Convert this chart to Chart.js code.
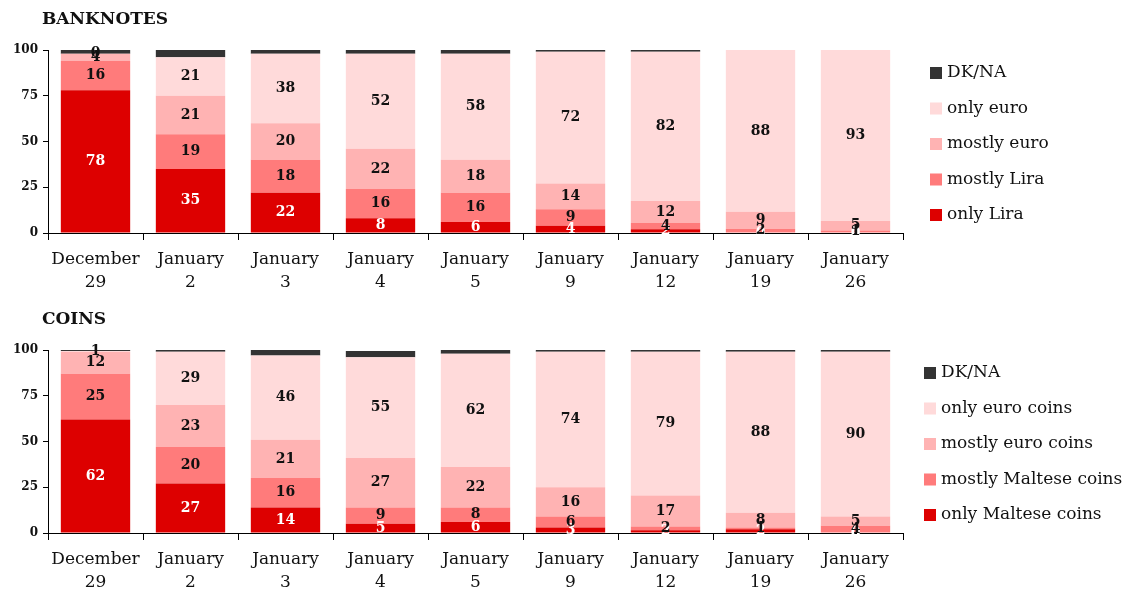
<!DOCTYPE html>
<html>
<head>
<meta charset="utf-8">
<script src="https://cdn.jsdelivr.net/npm/chart.js@4.4.1/dist/chart.umd.min.js"></script>
<style>
    body { margin: 0; background: #fff; }
    canvas { position: absolute; left: 0; }
</style>
</head>
<body>
<canvas id="banknotesChart" width="1127" height="300" style="top:0"></canvas>
<canvas id="coinsChart" width="1127" height="290" style="top:300px"></canvas>

<script>
// categories (survey dates), two lines each
const categories = [
    ["December", "29"], ["January", "2"], ["January", "3"], ["January", "4"], ["January", "5"],
    ["January", "9"], ["January", "12"], ["January", "19"], ["January", "26"]
];
const yTicks = [0, 25, 50, 75, 100];

// BANKNOTES (% of answers)
const bankOnlyLira   = [78, 35, 22, 8, 6, 4, 2, 0, 0];
const bankMostlyLira = [16, 19, 18, 16, 16, 9, 3.5, 2.2, 1.4];
const bankMostlyEuro = [4, 21, 20, 22, 18, 14, 12, 9.4, 5.2];
const bankOnlyEuro   = [0, 21, 38, 52, 58, 72, 81.5, 88.4, 93.4];
const bankDkNa       = [2, 4, 2, 2, 2, 1, 1, 0, 0];
const bankSeries = ["only Lira", "mostly Lira", "mostly euro", "only euro", "DK/NA"];

// COINS (% of answers)
const coinOnlyMaltese   = [62, 27, 14, 5, 6, 3, 1.5, 2, 0];
const coinMostlyMaltese = [25, 20, 16, 9, 8, 6, 2, 1, 4];
const coinMostlyEuro    = [12, 23, 21, 27, 22, 16, 17, 8, 5];
const coinOnlyEuro      = [0.5, 29, 46, 55, 62, 74, 78.5, 88, 90];
const coinDkNa          = [0.5, 1, 3, 3.5, 2, 1, 1, 1, 1];
const coinSeries = ["only Maltese coins", "mostly Maltese coins", "mostly euro coins", "only euro coins", "DK/NA"];

const seriesColors = ["#dd0000", "#ff7b7b", "#ffb3b3", "#ffdada", "#333333"];
const valueColors  = ["#ffffff", "#111111", "#111111", "#111111", null];   // null = no value label

const SERIF = "'DejaVu Serif', serif";

// value labels in the middle of each segment
const barValues = {
    id: 'barValues',
    afterDatasetsDraw(chart) {
        const ctx = chart.ctx;
        ctx.save();
        ctx.font = "bold 14px " + SERIF;
        ctx.textAlign = "center";
        ctx.textBaseline = "middle";
        chart.data.datasets.forEach((ds, i) => {
            if (!valueColors[i]) return;
            ctx.fillStyle = valueColors[i];
            chart.getDatasetMeta(i).data.forEach((bar, j) => {
                ctx.fillText(Math.round(ds.data[j]), bar.x, (bar.y + bar.base) / 2);
            });
        });
        ctx.restore();
    }
};

// title top left + legend on the right
const sideText = {
    id: 'sideText',
    afterDraw(chart, args, opts) {
        const ctx = chart.ctx;
        ctx.save();
        ctx.fillStyle = "#111";
        ctx.textBaseline = "middle";
        ctx.font = "bold 17px " + SERIF;
        ctx.fillText(opts.title, chart.chartArea.left - 6, 20);

        ctx.font = "17px " + SERIF;
        const items = chart.data.datasets.slice().reverse();
        items.forEach((ds, k) => {
            const y = opts.legendTop + k * 35.5;
            ctx.fillStyle = ds.backgroundColor;
            ctx.fillRect(opts.legendX, y - 6, 12, 12);
            ctx.fillStyle = "#111";
            ctx.fillText(ds.label, opts.legendX + 17, y);
        });
        ctx.restore();
    }
};

function makeChart(canvasId, title, names, values, legendX, axisHeight) {
    const ctx = document.getElementById(canvasId).getContext('2d');
    return new Chart(ctx, {
        type: 'bar',
        data: {
            labels: categories,
            datasets: values.map((v, i) => ({
                label: names[i],
                data: v,
                backgroundColor: seriesColors[i],
                borderWidth: 0,
                categoryPercentage: 1,
                barPercentage: 0.73
            }))
        },
        options: {
            responsive: false,
            animation: false,
            layout: { padding: { left: 0, right: 1127 - 903, top: 50, bottom: 0 } },
            plugins: {
                legend: { display: false },
                tooltip: { enabled: false },
                sideText: { title: title, legendX: legendX, legendTop: 73 }
            },
            scales: {
                x: {
                    stacked: true,
                    grid: { display: true, drawOnChartArea: false, offset: true, tickLength: 7, color: "#000" },
                    border: { color: "#000" },
                    ticks: { font: { family: SERIF, size: 17, lineHeight: 1.3 }, color: "#111", padding: 9, maxRotation: 0 },
                    afterFit(scale) { scale.height = axisHeight; }
                },
                y: {
                    stacked: true,
                    min: 0,
                    max: 100,
                    grid: { display: true, drawOnChartArea: false, tickLength: 5, color: "#000" },
                    border: { color: "#000" },
                    ticks: { font: { family: SERIF, size: 12, weight: 'bold' }, color: "#111", padding: 5 },
                    afterBuildTicks(scale) { scale.ticks = yTicks.map(v => ({ value: v })); },
                    afterFit(scale) { scale.width = 48; }
                }
            }
        },
        plugins: [barValues, sideText]
    });
}

makeChart('banknotesChart', 'BANKNOTES', bankSeries,
    [bankOnlyLira, bankMostlyLira, bankMostlyEuro, bankOnlyEuro, bankDkNa], 930, 67);
makeChart('coinsChart', 'COINS', coinSeries,
    [coinOnlyMaltese, coinMostlyMaltese, coinMostlyEuro, coinOnlyEuro, coinDkNa], 924, 57);
</script>
</body>
</html>
